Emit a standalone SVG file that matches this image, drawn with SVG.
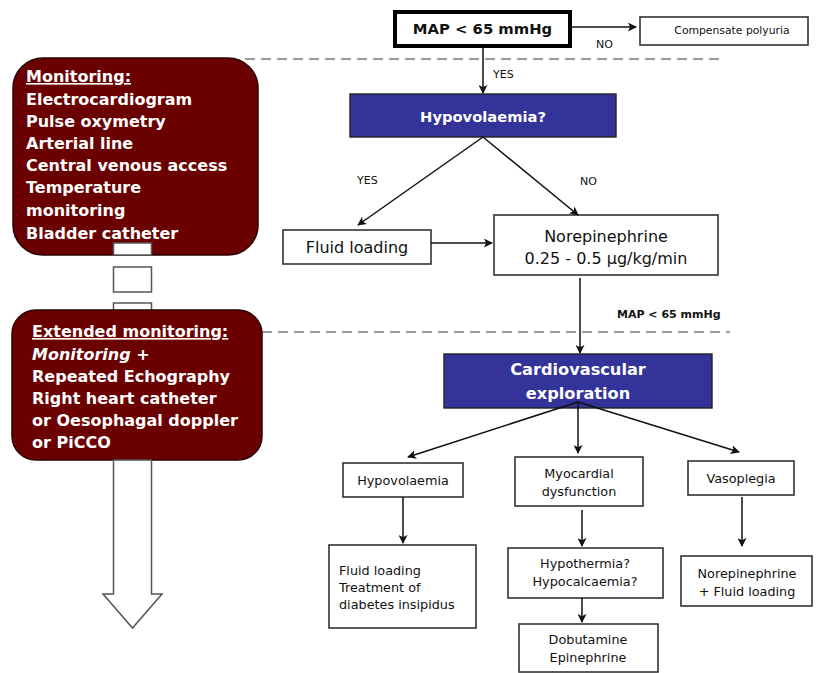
<svg xmlns="http://www.w3.org/2000/svg" width="816" height="673" viewBox="0 0 816 673">
<defs>
<marker id="ah" viewBox="0 0 10 10" refX="9" refY="5" markerWidth="9" markerHeight="9" markerUnits="userSpaceOnUse" orient="auto">
<path d="M0,0 L10,5 L0,10 L2.5,5 z" fill="#111"/>
</marker>
<style>
.box{fill:#fff;stroke:#333;stroke-width:1.6}
.blue{fill:#333399;stroke:#222;stroke-width:1.4}
.red{fill:#6b0000;stroke:#2a0000;stroke-width:1.5}
.shaft{fill:#fff;stroke:#555;stroke-width:1.5}
.conn line{stroke:#111;stroke-width:1.5;marker-end:url(#ah)}
.dash{stroke:#999;stroke-width:2;stroke-dasharray:10 6;fill:none}
.t{font-family:"DejaVu Sans",Verdana,sans-serif;fill:#111}
.s{font-size:12.8px}
.m{font-size:16px}
.hb{font-family:"DejaVu Sans",Verdana,sans-serif;font-weight:bold;fill:#fff}
.lt{font-family:"DejaVu Sans",Verdana,sans-serif;font-weight:bold;fill:#fff;font-size:16px}
.lbl{font-family:"DejaVu Sans",Verdana,sans-serif;font-size:11px;fill:#111}
</style>
</defs>
<rect width="816" height="673" fill="#fff"/>

<!-- dashed separators -->
<line class="dash" x1="245" y1="59" x2="722" y2="59"/>
<line class="dash" x1="262" y1="332" x2="730" y2="332"/>

<!-- left monitoring column -->
<g id="monitoring">
<rect class="red" x="13" y="58" width="245" height="197" rx="30"/>
<text class="lt" x="26" y="82" text-decoration="underline">Monitoring:</text>
<text class="lt" x="26" y="105">Electrocardiogram</text>
<text class="lt" x="26" y="127">Pulse oxymetry</text>
<text class="lt" x="26" y="149">Arterial line</text>
<text class="lt" x="26" y="171">Central venous access</text>
<text class="lt" x="26" y="193">Temperature</text>
<text class="lt" x="26" y="216">monitoring</text>
<text class="lt" x="26" y="239">Bladder catheter</text>
</g>
<g id="shaft">
<rect class="shaft" x="113.5" y="243" width="38" height="12"/>
<rect class="shaft" x="113.5" y="267" width="38" height="25"/>
<rect class="shaft" x="113.5" y="303" width="38" height="14"/>
</g>
<g id="extended-monitoring">
<rect class="red" x="12" y="310" width="250" height="150" rx="24"/>
<text class="lt" x="32" y="337" text-decoration="underline">Extended monitoring:</text>
<text class="lt" x="32" y="360" font-style="italic">Monitoring +</text>
<text class="lt" x="32" y="382">Repeated Echography</text>
<text class="lt" x="32" y="404">Right heart catheter</text>
<text class="lt" x="32" y="426">or Oesophagal doppler</text>
<text class="lt" x="32" y="448">or PiCCO</text>
</g>
<g id="big-arrow">
<polygon class="shaft" points="113.5,460 151.5,460 151.5,594 162,594 132.5,628 103,594 113.5,594"/>
</g>

<!-- right flow nodes -->
<g id="map">
<rect x="395" y="12" width="175" height="34" fill="#fff" stroke="#000" stroke-width="4"/>
<text class="hb" x="482.5" y="34" text-anchor="middle" font-size="14.8" fill="#111" style="fill:#111">MAP &lt; 65 mmHg</text>
</g>
<g id="compensate">
<rect class="box" x="640" y="17" width="168" height="28"/>
<text class="t" x="732" y="34" text-anchor="middle" font-size="10.8">Compensate polyuria</text>
</g>
<g id="hypovolaemia-q">
<rect class="blue" x="350" y="94" width="266" height="43"/>
<text class="hb" x="483" y="122" text-anchor="middle" font-size="14.7">Hypovolaemia?</text>
</g>
<g id="fluid-loading">
<rect class="box" x="283" y="230" width="148" height="34"/>
<text class="t m" x="357" y="253" text-anchor="middle">Fluid loading</text>
</g>
<g id="norepinephrine">
<rect class="box" x="494" y="215" width="224" height="60"/>
<text class="t m" x="606" y="242" text-anchor="middle">Norepinephrine</text>
<text class="t m" x="606" y="264" text-anchor="middle">0.25 - 0.5 μg/kg/min</text>
</g>
<g id="cardiovascular">
<rect class="blue" x="444" y="354" width="268" height="54"/>
<text class="hb" x="578" y="375" text-anchor="middle" font-size="16.2">Cardiovascular</text>
<text class="hb" x="578" y="399" text-anchor="middle" font-size="16.2">exploration</text>
</g>
<g id="hypovolaemia">
<rect class="box" x="343" y="463" width="120" height="34"/>
<text class="t s" x="403" y="485" text-anchor="middle">Hypovolaemia</text>
</g>
<g id="myocardial">
<rect class="box" x="515" y="457" width="128" height="49"/>
<text class="t s" x="579" y="478" text-anchor="middle">Myocardial</text>
<text class="t s" x="579" y="496" text-anchor="middle">dysfunction</text>
</g>
<g id="vasoplegia">
<rect class="box" x="688" y="461" width="106" height="34"/>
<text class="t s" x="741" y="483" text-anchor="middle">Vasoplegia</text>
</g>
<g id="fluid-treatment">
<rect class="box" x="329" y="545" width="147" height="83"/>
<text class="t s" x="339" y="575">Fluid loading</text>
<text class="t s" x="339" y="592">Treatment of</text>
<text class="t s" x="339" y="609">diabetes insipidus</text>
</g>
<g id="hypothermia">
<rect class="box" x="508" y="548" width="155" height="50"/>
<text class="t s" x="585" y="568" text-anchor="middle">Hypothermia?</text>
<text class="t s" x="585" y="586" text-anchor="middle">Hypocalcaemia?</text>
</g>
<g id="norepi-fluid">
<rect class="box" x="681" y="556" width="131" height="50"/>
<text class="t s" x="747" y="578" text-anchor="middle">Norepinephrine</text>
<text class="t s" x="747" y="596" text-anchor="middle">+ Fluid loading</text>
</g>
<g id="dobutamine">
<rect class="box" x="519" y="624" width="139" height="48"/>
<text class="t s" x="588" y="644" text-anchor="middle">Dobutamine</text>
<text class="t s" x="588" y="662" text-anchor="middle">Epinephrine</text>
</g>

<!-- connectors -->
<g id="connectors" class="conn">
<line x1="572" y1="27" x2="636" y2="27"/>
<line x1="483" y1="47" x2="483" y2="93"/>
<line x1="483" y1="137" x2="358" y2="225"/>
<line x1="483" y1="137" x2="578" y2="215"/>
<line x1="431" y1="243" x2="492" y2="243"/>
<line x1="580" y1="278" x2="580" y2="353"/>
<line x1="578" y1="402" x2="408" y2="457"/>
<line x1="578" y1="402" x2="578" y2="453"/>
<line x1="578" y1="402" x2="739" y2="452"/>
<line x1="403" y1="497" x2="403" y2="543"/>
<line x1="582" y1="510" x2="582" y2="546"/>
<line x1="742" y1="497" x2="742" y2="546"/>
<line x1="582" y1="598" x2="582" y2="622"/>
</g>
<g id="labels">
<text class="lbl" x="596" y="48">NO</text>
<text class="lbl" x="493" y="78">YES</text>
<text class="lbl" x="357" y="184">YES</text>
<text class="lbl" x="580" y="185">NO</text>
<text class="lbl" x="617" y="318" font-weight="bold" font-size="10">MAP &lt; 65 mmHg</text>
</g>
</svg>
